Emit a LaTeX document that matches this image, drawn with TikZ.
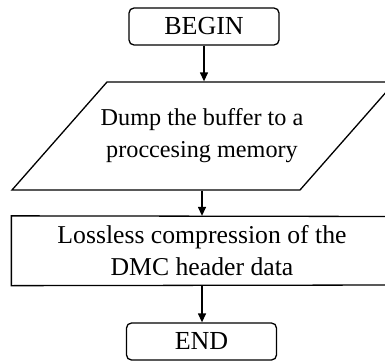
\documentclass[tikz,border=0pt]{standalone}
\usepackage{fontspec}
\setmainfont{Liberation Serif}
\usetikzlibrary{arrows.meta}
\begin{document}
\begin{tikzpicture}[x=1pt,y=1pt,
  line width=1.3pt,
  terminal/.style={draw, rounded corners=5pt, minimum width=150pt, minimum height=37pt, inner sep=0pt, font=\fontsize{26}{32}\selectfont},
  iotext/.style={inner sep=0pt, minimum height=108pt, minimum width=288pt, align=center, font=\fontsize{24.2}{32}\selectfont},
  proctext/.style={inner sep=0pt, minimum width=380pt, minimum height=68.5pt, align=center, font=\fontsize{25.7}{32}\selectfont},
  flow/.style={-{Triangle[length=9pt,width=8pt]}}]
\useasboundingbox (0,0) rectangle (385,-361);
\clip (0,0) rectangle (385,-361);
\node[terminal] (begin) at (204,-26.5) {BEGIN};
\node[iotext] (dump) at (202,-136) {Dump the buffer to a\\proccesing memory};
\draw (12,-190) -- (300,-190) -- (395,-82) -- (107,-82) -- cycle;
\node[proctext] (lossless) at (202,-250.75) {Lossless compression of the\\DMC header data};
\draw (400,-216.5) -- (lossless.north west) -- (lossless.south west) -- (400,-285);
\node[terminal] (end) at (201.5,-341.5) {END};
\draw[flow] (begin.south) -- (begin.south |- dump.north);
\draw[flow] (dump.south) -- (lossless.north);
\draw[flow] (lossless.south) -- (lossless.south |- end.north);
\end{tikzpicture}
\end{document}
